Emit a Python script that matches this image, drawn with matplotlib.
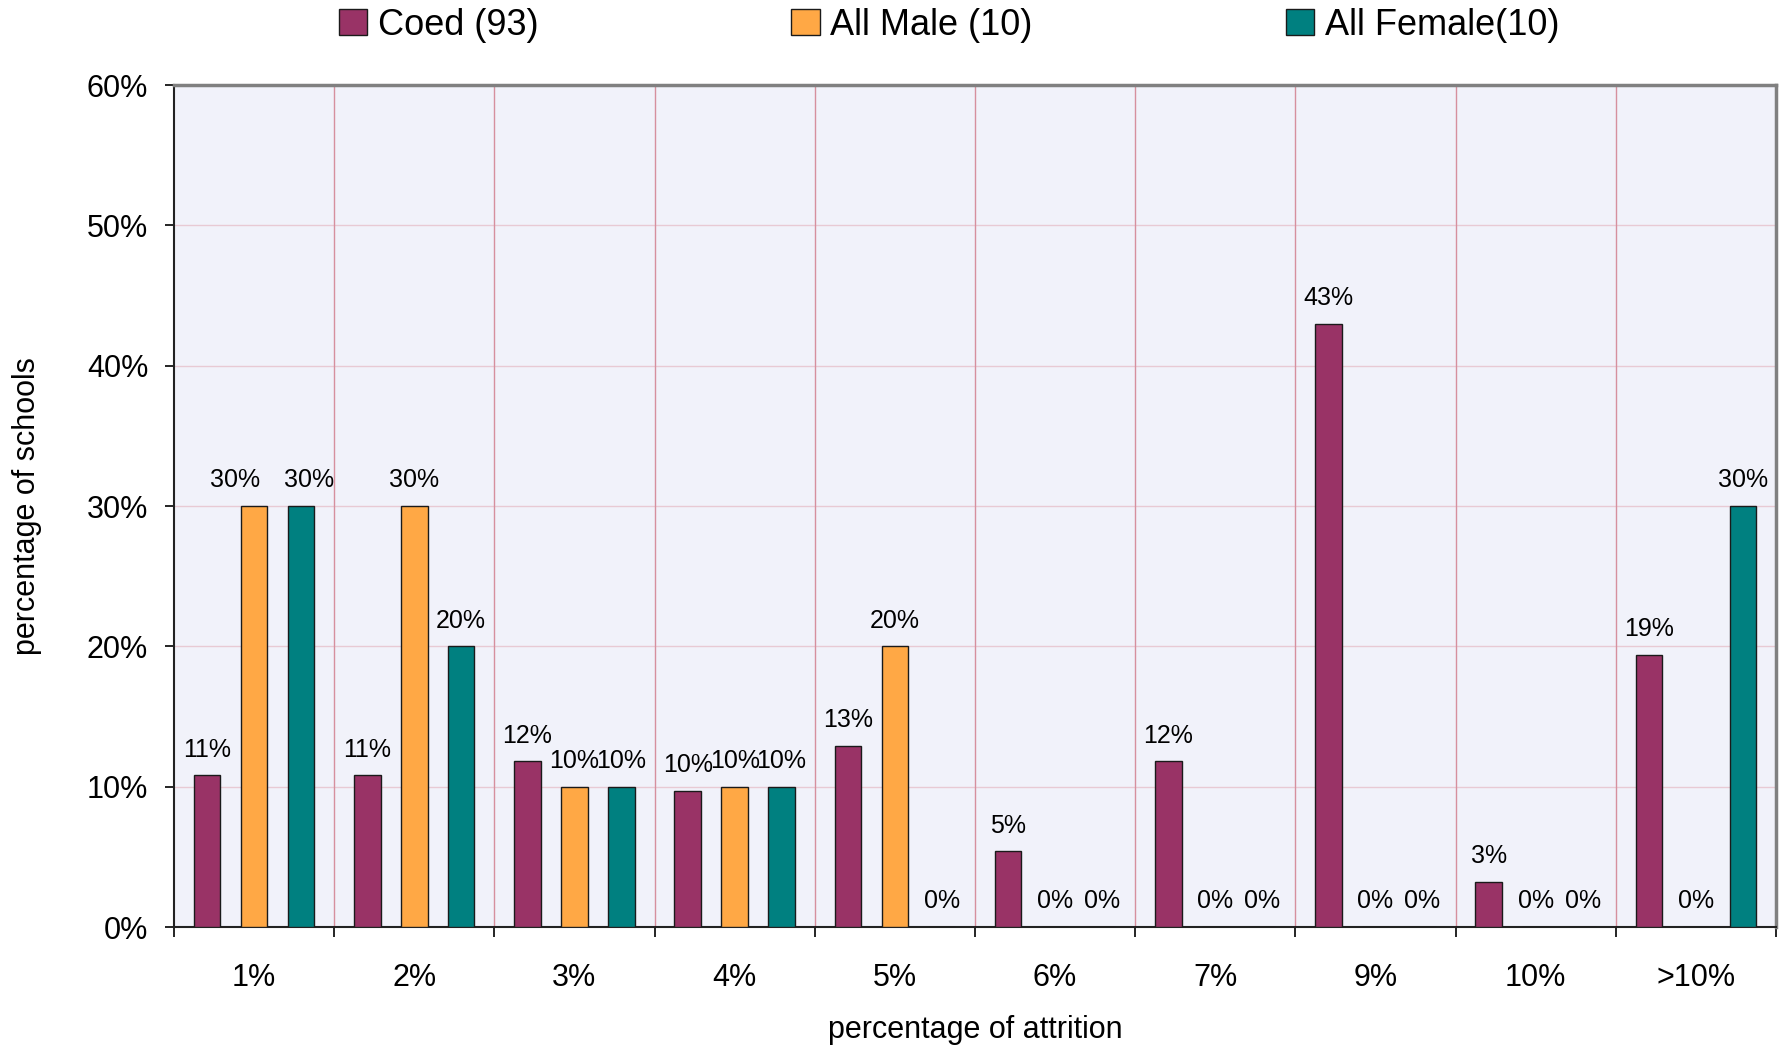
import matplotlib; matplotlib.use('Agg')
import matplotlib.pyplot as plt
import numpy as np

plt.rcParams['font.family'] = ['Liberation Sans', 'DejaVu Sans']

COED, MALE, FEMALE = '#993366', '#FFA845', '#008080'

categories = ['1%', '2%', '3%', '4%', '5%', '6%', '7%', '9%', '10%', '>10%']
coed = [10.8, 10.8, 11.8, 9.7, 12.9, 5.4, 11.8, 43.0, 3.2, 19.4]
all_male = [30, 30, 10, 10, 20, 0, 0, 0, 0, 0]
all_female = [30, 20, 10, 10, 0, 0, 0, 0, 0, 30]
series_names = ['Coed (93)', 'All Male (10)', 'All Female(10)']

# labels the original nudged sideways so they don't collide (series, category) -> points
label_nudge = {(1, 0): -13.5, (2, 0): 6.0}

fig = plt.figure(figsize=(17.84, 10.5), dpi=100)
ax = fig.add_axes([0.0975, 0.1171, 0.898, 0.8019])
ax.set_facecolor('#F1F2FA')

x = np.arange(len(categories))
offset, width = 0.293, 0.166
for si, (vals, col, dx, name) in enumerate(zip([coed, all_male, all_female],
                                               [COED, MALE, FEMALE],
                                               [-offset, 0, offset], series_names)):
    bars = ax.bar(x + dx, vals, width, color=col, edgecolor='#1a1a1a', linewidth=1.0,
                  label=name, zorder=3)
    for ci, (b, v) in enumerate(zip(bars, vals)):
        ax.annotate(f'{v:.0f}%', (b.get_x() + b.get_width() / 2, v),
                    xytext=(label_nudge.get((si, ci), 0), 18.5), textcoords='offset points',
                    ha='center', va='center', fontsize=18)

# gridlines
for y in range(10, 60, 10):
    ax.axhline(y, color='#E8CAD4', lw=1.0, zorder=1)
for xb in np.arange(0.5, len(categories) - 0.5, 1):
    ax.axvline(xb, color='#D6909E', lw=1.0, zorder=1)

ax.set_xlim(-0.5, len(categories) - 0.5)
ax.set_ylim(0, 60)
ax.set_yticks(range(0, 61, 10))
ax.set_yticklabels([f'{t}%' for t in range(0, 61, 10)], fontsize=22)
ax.tick_params(axis='y', direction='out', length=6.5, width=1.2, pad=12)

ax.set_xticks(np.arange(-0.5, len(categories), 1))
ax.set_xticklabels([])
ax.tick_params(axis='x', which='major', direction='out', length=7, width=1.2)
ax.set_xticks(x, minor=True)
ax.set_xticklabels(categories, minor=True, fontsize=22)
ax.tick_params(axis='x', which='minor', length=0, pad=26)

for s in ['left', 'bottom']:
    ax.spines[s].set_color('#222222')
    ax.spines[s].set_linewidth(1.5)
for s in ['top', 'right']:
    ax.spines[s].set_color('#808080')
    ax.spines[s].set_linewidth(2.5)

ax.set_xlabel('percentage of attrition', fontsize=22, va='center')
ax.xaxis.set_label_coords(0.5, -0.122)
ax.set_ylabel('percentage of schools', fontsize=22, va='center')
ax.yaxis.set_label_coords(-0.092, 0.5)

fig.legend(loc='center', bbox_to_anchor=(0.532, 0.976), ncol=3, frameon=False,
           fontsize=26, handlelength=0.78, handleheight=0.75, handletextpad=0.3,
           columnspacing=7.0)

fig.savefig('out.png', dpi=100)
